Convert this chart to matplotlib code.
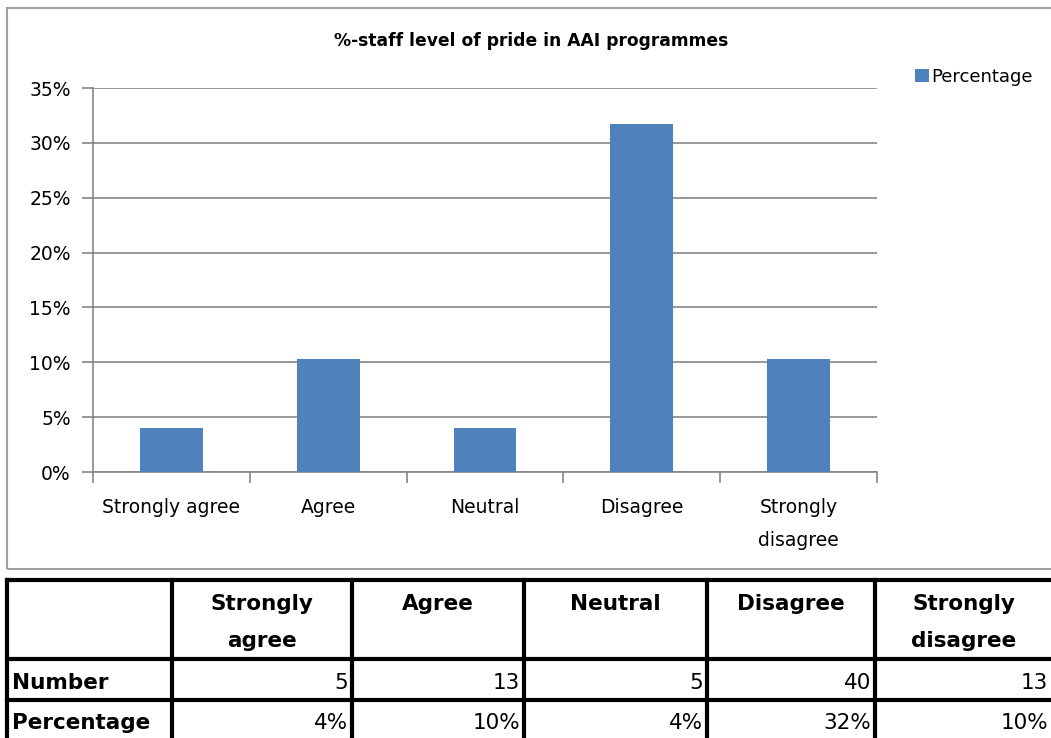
import matplotlib
matplotlib.use("Agg")
import matplotlib.pyplot as plt
from matplotlib.lines import Line2D
from matplotlib.patches import Rectangle
from matplotlib.ticker import FixedLocator, PercentFormatter

W, H = 1051, 738

categories = ["Strongly agree", "Agree", "Neutral", "Disagree", "Strongly\ndisagree"]
table_headers = ["Strongly\nagree", "Agree", "Neutral", "Disagree", "Strongly\ndisagree"]
percent_values = [4.0, 10.3, 4.0, 31.7, 10.3]
numbers = [5, 13, 5, 40, 13]
percent_labels = ["4%", "10%", "4%", "32%", "10%"]

BAR = "#4f81bd"
GRID = "#868686"

plt.rcParams["font.family"] = ["DejaVu Sans"]


def fx(x):
    return x / W


def fy(y):
    return 1 - y / H


fig = plt.figure(figsize=(W / 100, H / 100), dpi=100)
fig.patch.set_facecolor("white")

# chart frame
fig.patches.append(Rectangle((fx(7), fy(569)), fx(1070) - fx(7), fy(8) - fy(569),
                             transform=fig.transFigure, fill=False,
                             edgecolor="#a0a0a0", lw=1.5))

left, right, top, bottom = 93, 877, 88, 472
ax = fig.add_axes([fx(left), fy(bottom), fx(right) - fx(left), fy(top) - fy(bottom)])

xs = [i + 0.5 for i in range(len(categories))]
bars = ax.bar(xs, percent_values, width=0.4, color=BAR, zorder=3)

ax.set_xlim(0, len(categories))
ax.set_ylim(0, 35)
ax.set_yticks(range(0, 36, 5))
ax.yaxis.set_major_formatter(PercentFormatter(decimals=0))
ax.grid(axis="y", color=GRID, lw=1.2, zorder=0)

ax.xaxis.set_major_locator(FixedLocator(range(len(categories) + 1)))
ax.xaxis.set_minor_locator(FixedLocator(xs))
ax.set_xticklabels([])
ax.set_xticklabels(categories, minor=True)
for lab in ax.get_xticklabels(minor=True):
    lab.set_linespacing(1.9)
ax.tick_params(axis="x", which="major", length=8, color=GRID, width=1.2)
ax.tick_params(axis="x", which="minor", length=0, pad=19, labelsize=13.5)
ax.tick_params(axis="y", length=8, color=GRID, width=1.2, labelsize=13.5, pad=8)

for s in ("top", "right"):
    ax.spines[s].set_visible(False)
for s in ("left", "bottom"):
    ax.spines[s].set_color(GRID)
    ax.spines[s].set_linewidth(1.2)

fig.text(fx(531), fy(41), "%-staff level of pride in AAI programmes",
         ha="center", va="center", fontsize=12.3, fontweight="bold")

fig.legend([bars], ["Percentage"], loc="center left",
           bbox_to_anchor=(fx(908), fy(77)), frameon=False,
           handlelength=0.75, handleheight=0.75, handletextpad=0.15,
           fontsize=13, borderaxespad=0)

# table below the chart
col_edges = [7, 172, 352, 524, 707, 875, 1052]
row_edges = [580, 659, 700, 745]
for y in row_edges:
    fig.add_artist(Line2D([fx(col_edges[0]), fx(col_edges[-1] + 10)], [fy(y), fy(y)],
                          transform=fig.transFigure, color="black", lw=3))
for x in col_edges:
    fig.add_artist(Line2D([fx(x), fx(x)], [fy(row_edges[0]), fy(row_edges[-1])],
                          transform=fig.transFigure, color="black", lw=3))

tfont = dict(fontsize=15.5, fontweight="bold")
for i, head in enumerate(table_headers):
    cx = (col_edges[i + 1] + col_edges[i + 2]) / 2
    for j, line in enumerate(head.split("\n")):
        fig.text(fx(cx), fy(604 + 37 * j), line, ha="center", va="center", **tfont)

fig.text(fx(12), fy(683), "Number", ha="left", va="center", **tfont)
fig.text(fx(12), fy(723), "Percentage", ha="left", va="center", **tfont)
for i in range(len(numbers)):
    rx = col_edges[i + 2] - 4
    fig.text(fx(rx), fy(683), str(numbers[i]), ha="right", va="center", fontsize=15.5)
    fig.text(fx(rx), fy(723), percent_labels[i], ha="right", va="center", fontsize=15.5)

fig.savefig("out.png", dpi=100)
